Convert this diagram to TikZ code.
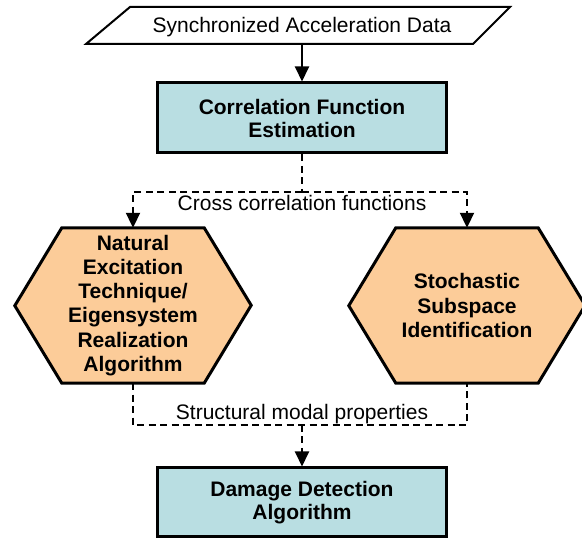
\documentclass[tikz,border=0pt]{standalone}
\usepackage{fontspec}
\setmainfont{Liberation Sans}
\usetikzlibrary{arrows.meta}
\definecolor{boxteal}{RGB}{185,222,226}
\definecolor{hexpeach}{RGB}{252,204,153}
\begin{document}
\begin{tikzpicture}[x=1pt,y=-1pt,
  every node/.style={font=\fontsize{21}{24}\selectfont, inner sep=0pt, align=center},
  procbox/.style={draw=black, line width=3pt, fill=boxteal, minimum width=289pt,
    minimum height=70pt, font=\fontsize{21}{23}\selectfont\bfseries},
  hextext/.style={minimum width=142pt, minimum height=155pt,
    font=\fontsize{21}{24.2}\selectfont\bfseries},
  hexline/.style={draw=black, line width=3pt, fill=hexpeach, line join=miter},
  tip/.style={-{Triangle[width=14pt,length=15pt]}},
  flow/.style={line width=2pt},
  dashflow/.style={line width=2pt, dash pattern=on 7pt off 4.5pt},
  lbl/.style={font=\fontsize{21}{24}\selectfont}]
\useasboundingbox (0,0) rectangle (582,540);

% input data (parallelogram)
\draw[line width=2pt, line join=miter] (86,44) -- (130,7) -- (510,7) -- (473,44) -- cycle;
\node[lbl, anchor=base] (data) at (302,33) {Synchronized Acceleration Data};
\coordinate (dataB) at (302,44);

% processing boxes
\node[procbox] (cfe) at (302,118) {Correlation Function\\Estimation};
\node[procbox, minimum height=69pt] (dda) at (302,502.5) {Damage Detection\\Algorithm};

% identification methods (hexagons)
\node[hextext] (next) at (133,305.5) {};
\node[hextext] (ssi) at (467,305.5) {};
\foreach \h in {next,ssi}{
  \draw[hexline] (\h.north west) -- (\h.north east) -- ++(47,77.5)
    -- (\h.south east) -- (\h.south west) -- ++(-47,-77.5) -- cycle;
}
\node[hextext] at (next) {Natural\\Excitation\\Technique/\\Eigensystem\\Realization\\Algorithm};
\node[hextext] at (ssi) {Stochastic\\Subspace\\Identification};

% solid flow
\draw[flow, tip] (dataB) -- (cfe.north);

% cross correlation split
\coordinate (split) at (302,192);
\draw[dashflow] (cfe.south) -- (split);
\draw[dashflow, tip] (split) -| (next.north);
\draw[dashflow, tip] (split) -| (ssi.north);
\node[lbl, anchor=base] (ccf) at (302,211) {Cross correlation functions};

% modal properties merge
\coordinate (merge) at (302,425);
\draw[dashflow] (next.south) |- (merge) -| (ssi.south);
\draw[dashflow, tip] (merge) -- (dda.north);
\node[lbl, anchor=base] (smp) at (302,420) {Structural modal properties};
\end{tikzpicture}
\end{document}
